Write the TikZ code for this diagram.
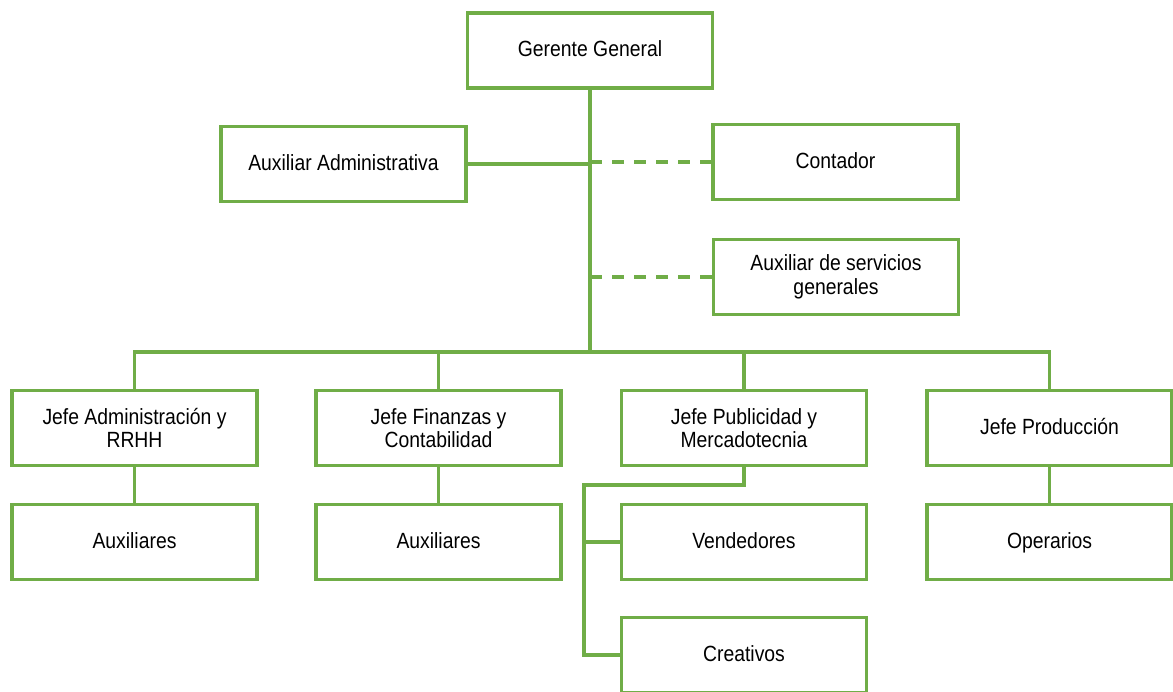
\documentclass[tikz,border=0pt]{standalone}
\usepackage{fontspec}
\setmainfont{Liberation Sans}[FakeStretch=0.88]
\usepackage{tikz}
\usetikzlibrary{calc}
\definecolor{orggreen}{HTML}{70AD47}

\begin{document}
\begin{tikzpicture}[
  x=0.5pt,y=-0.5pt,
  box/.style={draw=orggreen,line width=1.6pt,fill=white,minimum width=122.5pt,minimum height=37.5pt,
    inner sep=1pt,align=center,font=\fontsize{11}{11.8}\selectfont},
  oneline/.style={box,text height=1.6ex,text depth=.45ex},
  link/.style={draw=orggreen,line width=1.6pt},
  dashlink/.style={link,dash pattern=on 6pt off 5pt},
]
  \useasboundingbox (0,0) rectangle (1173,691);

  \node[oneline] (gg) at (590,50.5) {Gerente General};
  \node[oneline] (auxadm) at (343.5,164) {Auxiliar Administrativa};
  \node[oneline] (cont) at (835.5,162) {Contador};
  \node[box] (serv) at (836,277) {Auxiliar de servicios\\generales};

  \node[box] (jadm) at (134.5,428) {Jefe Administración y\\RRHH};
  \node[box] (jfin) at (438.5,428) {Jefe Finanzas y\\Contabilidad};
  \node[box] (jpub) at (744,428) {Jefe Publicidad y\\Mercadotecnia};
  \node[oneline] (jprod) at (1049.5,428) {Jefe Producción};

  \node[oneline] (auxa) at (134.5,542) {Auxiliares};
  \node[oneline] (auxf) at (438.5,542) {Auxiliares};
  \node[oneline] (vend) at (744,542) {Vendedores};
  \node[oneline] (oper) at (1049.5,542) {Operarios};
  \node[oneline] (crea) at (744,655) {Creativos};

  \coordinate (bus) at (590,352);
  \coordinate (pubbend) at (584,485);

  \draw[link] (gg.south) -- (bus);
  \draw[link] (auxadm.east) -- (auxadm.east -| gg.south);
  \draw[dashlink] (gg.south |- cont.west) -- (cont.west);
  \draw[dashlink] (gg.south |- serv.west) -- (serv.west);
  \foreach \j in {jadm,jfin,jpub,jprod}
    \draw[link] (\j.north) |- (bus);

  \draw[link] (jadm.south) -- (auxa.north);
  \draw[link] (jfin.south) -- (auxf.north);
  \draw[link] (jprod.south) -- (oper.north);
  \draw[link] (jpub.south) |- (pubbend) |- (crea.west);
  \draw[link] (pubbend |- vend.west) -- (vend.west);
\end{tikzpicture}
\end{document}
